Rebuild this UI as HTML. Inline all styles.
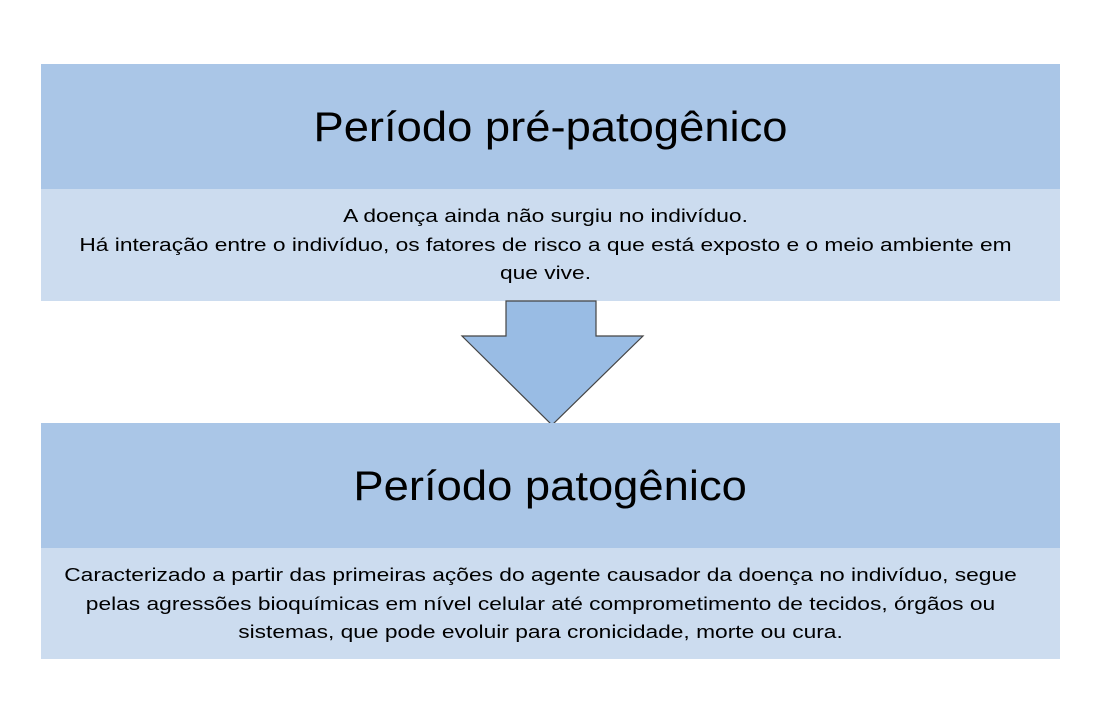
<!DOCTYPE html>
<html><head><style>
body{margin:0;width:1099px;height:710px;background:#fff;position:relative;font-family:"Liberation Sans",sans-serif;overflow:hidden}
.h{position:absolute;left:41px;width:1019px;background:#aac6e7;text-align:center;color:#000;font-size:42px}
.h span{display:inline-block;transform:scaleX(1.08)}
.b{position:absolute;left:41px;width:1019px;background:#ccdcef;color:#000;font-size:18.5px;line-height:28.5px;box-sizing:border-box;padding-top:13px}
.b div{text-align:center;white-space:nowrap;transform:scaleX(1.23);transform-origin:50% 0}
</style></head><body>
<div class="h" style="top:64px;height:125px;line-height:125px"><span>Período pré-patogênico</span></div>
<div class="b" style="top:189px;height:112px"><div style="margin-left:-10px">A doença ainda não surgiu no indivíduo.<br>Há interação entre o indivíduo, os fatores de risco a que está exposto e o meio ambiente em<br>que vive.</div></div>
<svg style="position:absolute;left:0;top:0" width="1099" height="710">
<polygon points="506,301 596,301 596,336 643,336 552,425 462,336 506,336" fill="#99bce4" stroke="#444" stroke-width="1.2"/>
</svg>
<div class="h" style="top:423px;height:125px;line-height:125px"><span>Período patogênico</span></div>
<div class="b" style="top:548px;height:111px"><div style="margin-left:-20px">Caracterizado a partir das primeiras ações do agente causador da doença no indivíduo, segue<br>pelas agressões bioquímicas em nível celular até comprometimento de tecidos, órgãos ou<br>sistemas, que pode evoluir para cronicidade, morte ou cura.</div></div>
</body></html>
